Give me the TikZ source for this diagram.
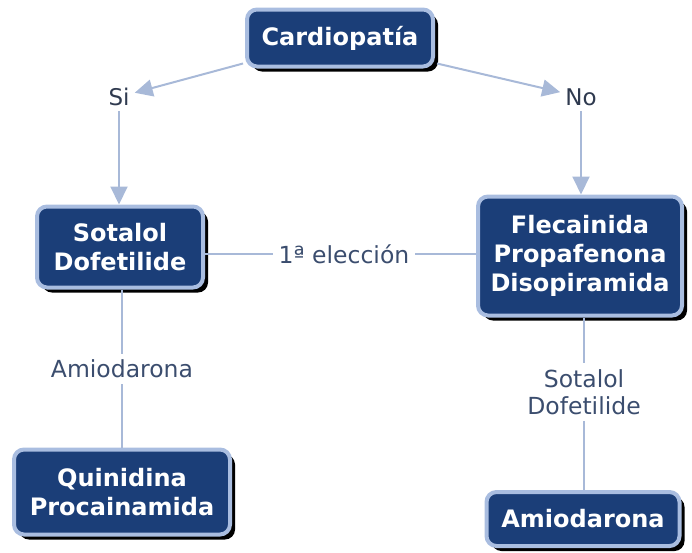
\documentclass[tikz,border=0pt]{standalone}
\usepackage{fontspec}
\setmainfont{DejaVu Sans}
\usetikzlibrary{arrows.meta,shadows}
\definecolor{boxfill}{HTML}{1B3E78}
\definecolor{boxedge}{HTML}{A9BDE0}
\definecolor{linkcol}{HTML}{A8B9D8}
\definecolor{lblcol}{HTML}{3B4D6E}
\definecolor{silcol}{HTML}{2F3A4F}
\tikzset{
  concept/.style={rounded corners=10pt, fill=boxfill, draw=boxedge, line width=4pt,
    text=white, font=\fontsize{24}{29}\selectfont\bfseries, align=center, inner sep=0pt,
    drop shadow={shadow xshift=5pt, shadow yshift=-5pt, fill=black, opacity=1}},
  lbl/.style={text=lblcol, font=\fontsize{23.5}{27}\selectfont, align=center, inner sep=6pt},
  yesno/.style={text=silcol, font=\fontsize{23}{27}\selectfont, inner sep=5pt},
  link/.style={draw=linkcol, line width=2pt},
  arr/.style={link, -{Triangle[length=18pt,width=17pt]}}
}
\begin{document}
\begin{tikzpicture}[x=1pt,y=-1pt]
\useasboundingbox (0,0) rectangle (692,552);
\node[concept, minimum width=186pt, minimum height=57pt] (card) at (340,38) {Cardiopatía};
\node[concept, minimum width=166pt, minimum height=81pt] (sot) at (120,247) {Sotalol\\Dofetilide};
\node[concept, minimum width=204pt, minimum height=119pt] (flec) at (580,256) {Flecainida\\Propafenona\\Disopiramida};
\node[concept, minimum width=216pt, minimum height=85pt] (quin) at (122,492) {Quinidina\\Procainamida};
\node[concept, minimum width=193pt, minimum height=54pt] (amio) at (583,519) {Amiodarona};
\node[yesno] (si) at (119,97) {Si};
\node[yesno] (no) at (581,97) {No};
\node[lbl] (elec) at (344,254) {1ª elección};
\node[lbl] (lamio) at (122,369) {Amiodarona};
\node[lbl] (lsot) at (584,392) {Sotalol\\Dofetilide};
\draw[arr] ([xshift=-2pt,yshift=5pt]card.south west) -- (si);
\draw[arr] ([xshift=2pt,yshift=5pt]card.south east) -- (no);
\draw[arr] (si) -- (sot.north -| si);
\draw[arr] (no) -- (flec.north -| no);
\draw[link] (sot.east |- elec) -- (elec);
\draw[link] (elec) -- (flec.west |- elec);
\draw[link] (sot.south -| lamio) -- (lamio);
\draw[link] (lamio) -- (quin.north -| lamio);
\draw[link] (flec.south -| lsot) -- (lsot);
\draw[link] (lsot) -- (amio.north -| lsot);
\end{tikzpicture}
\end{document}
